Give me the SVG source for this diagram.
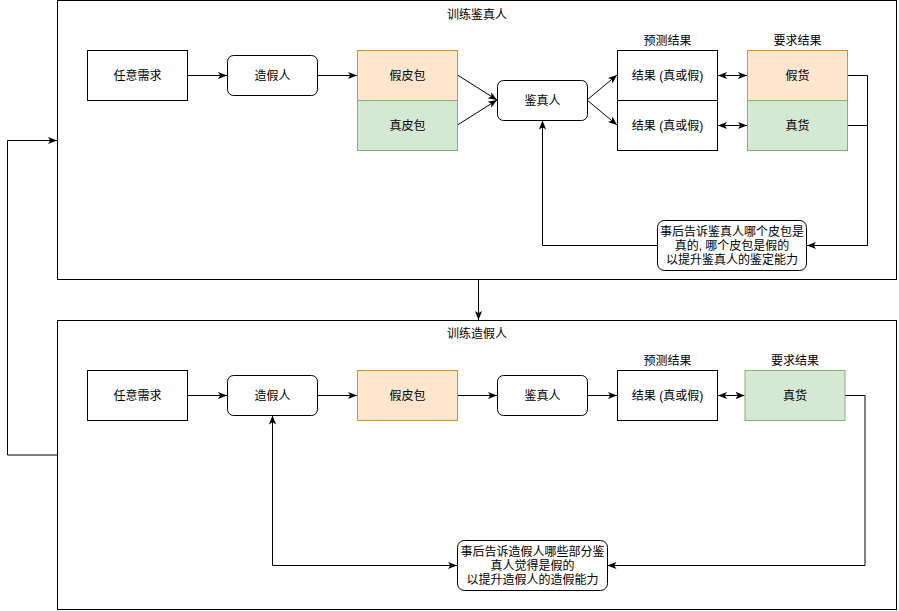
<svg xmlns="http://www.w3.org/2000/svg" width="899" height="611" viewBox="0 0 899 611">
<defs>
<style>
text{font-family:"Liberation Sans","Noto Sans CJK SC",sans-serif;font-size:12px;fill:#000;text-anchor:middle;dominant-baseline:central}
.box{fill:#fff;stroke:#000;stroke-width:1}
.org{fill:#ffe6cc;stroke:#d79b00;stroke-width:1}
.grn{fill:#d5e8d4;stroke:#82b366;stroke-width:1}
.edge{fill:none;stroke:#000;stroke-width:1}
.arr{marker-end:url(#ah)}
.dbl{marker-end:url(#ah);marker-start:url(#ah)}
</style>
<marker id="ah" viewBox="0 0 10 10" refX="10" refY="5" markerWidth="9" markerHeight="9" markerUnits="userSpaceOnUse" orient="auto-start-reverse">
<path d="M0,1 L10,5 L0,9 L2.5,5 z" fill="#000"/>
</marker>
</defs>
<rect width="899" height="611" fill="#fff"/>

<g id="container-top">
<rect class="box" x="57.5" y="0.5" width="839" height="279"/>
<text x="477" y="15">训练鉴真人</text>
</g>
<g id="container-bottom">
<rect class="box" x="57.5" y="320.5" width="839" height="289"/>
<text x="477" y="334">训练造假人</text>
</g>

<g id="connectors">
<path class="edge arr" d="M7.5,455 L7.5,140.5 L57,140.5"/>
<path class="edge" d="M57,455 L7.5,455"/>
<path class="edge arr" d="M478.5,280 L478.5,320"/>
<!-- top -->
<path class="edge arr" d="M187.5,75.5 L227,75.5"/>
<path class="edge arr" d="M317,75.5 L357,75.5"/>
<path class="edge arr" d="M457.5,75 L497,100"/>
<path class="edge arr" d="M457.5,125 L497,100"/>
<path class="edge arr" d="M587,100 L617,75"/>
<path class="edge arr" d="M587,100 L617,125"/>
<path class="edge dbl" d="M718,75.5 L747,75.5"/>
<path class="edge dbl" d="M718,125.5 L747,125.5"/>
<path class="edge" d="M847.5,75.5 L867.5,75.5 L867.5,245.5"/>
<path class="edge arr" d="M847.5,125.5 L867.5,125.5 L867.5,245.5 L807,245.5"/>
<path class="edge arr" d="M657,245.5 L542.5,245.5 L542.5,120.5"/>
<!-- bottom -->
<path class="edge arr" d="M187.5,395.5 L227,395.5"/>
<path class="edge arr" d="M317,395.5 L357,395.5"/>
<path class="edge arr" d="M457.5,395.5 L497,395.5"/>
<path class="edge arr" d="M587,395.5 L617,395.5"/>
<path class="edge dbl" d="M718,395.5 L744.5,395.5"/>
<path class="edge arr" d="M845,395.5 L865,395.5 L865,565.5 L607.5,565.5"/>
<path class="edge arr" d="M272.5,565.5 L272.5,415.5"/>
<path class="edge arr" d="M272.5,565.5 L457,565.5"/>
</g>

<g id="top-req">
<rect class="box" x="87.5" y="50.5" width="100" height="50"/>
<text x="137.5" y="75.5">任意需求</text>
</g>
<g id="top-forger">
<rect class="box" x="227.5" y="55.5" width="90" height="40" rx="6"/>
<text x="272.5" y="75.5">造假人</text>
</g>
<g id="top-fakebag">
<rect class="org" x="357.5" y="50.5" width="100" height="50"/>
<text x="407.5" y="75.5">假皮包</text>
</g>
<g id="top-realbag">
<rect class="grn" x="357.5" y="100.5" width="100" height="50"/>
<text x="407.5" y="125.5">真皮包</text>
</g>
<g id="top-judge">
<rect class="box" x="497.5" y="80.5" width="90" height="40" rx="6"/>
<text x="542.5" y="100.5">鉴真人</text>
</g>
<g id="top-pred">
<text x="667.5" y="41">预测结果</text>
<rect class="box" x="617.5" y="50.5" width="100" height="50"/>
<text x="667.5" y="75.5">结果 (真或假)</text>
<rect class="box" x="617.5" y="100.5" width="100" height="50"/>
<text x="667.5" y="125.5">结果 (真或假)</text>
</g>
<g id="top-target">
<text x="797.5" y="41">要求结果</text>
<rect class="org" x="747.5" y="50.5" width="100" height="50"/>
<text x="797.5" y="75.5">假货</text>
<rect class="grn" x="747.5" y="100.5" width="100" height="50"/>
<text x="797.5" y="125.5">真货</text>
</g>
<g id="top-note">
<rect class="box" x="657.5" y="220.5" width="149" height="50" rx="7"/>
<text x="732" y="231.5">事后告诉鉴真人哪个皮包是</text>
<text x="732" y="245.5">真的, 哪个皮包是假的</text>
<text x="732" y="259.5">以提升鉴真人的鉴定能力</text>
</g>

<g id="bot-req">
<rect class="box" x="87.5" y="370.5" width="100" height="50"/>
<text x="137.5" y="395.5">任意需求</text>
</g>
<g id="bot-forger">
<rect class="box" x="227.5" y="375.5" width="90" height="40" rx="6"/>
<text x="272.5" y="395.5">造假人</text>
</g>
<g id="bot-fakebag">
<rect class="org" x="357.5" y="370.5" width="100" height="50"/>
<text x="407.5" y="395.5">假皮包</text>
</g>
<g id="bot-judge">
<rect class="box" x="497.5" y="375.5" width="90" height="40" rx="6"/>
<text x="542.5" y="395.5">鉴真人</text>
</g>
<g id="bot-pred">
<text x="667.5" y="361">预测结果</text>
<rect class="box" x="617.5" y="370.5" width="100" height="50"/>
<text x="667.5" y="395.5">结果 (真或假)</text>
</g>
<g id="bot-target">
<text x="795" y="361">要求结果</text>
<rect class="grn" x="745" y="370.5" width="100" height="50"/>
<text x="795" y="395.5">真货</text>
</g>
<g id="bot-note">
<rect class="box" x="457.5" y="540.5" width="150" height="50" rx="7"/>
<text x="532.5" y="551.5">事后告诉造假人哪些部分鉴</text>
<text x="532.5" y="565.5">真人觉得是假的</text>
<text x="532.5" y="579.5">以提升造假人的造假能力</text>
</g>
</svg>
